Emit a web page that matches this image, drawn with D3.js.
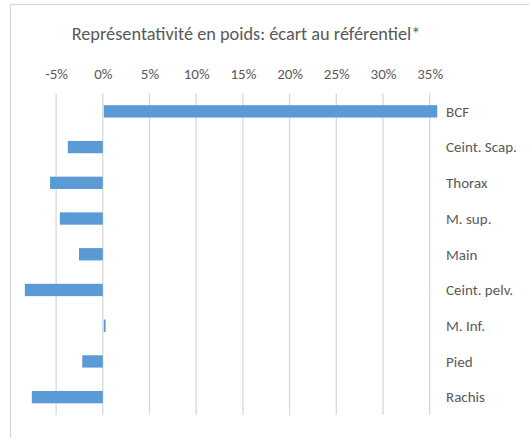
<!DOCTYPE html>
<html>
<head>
<meta charset="utf-8">
<script src="https://cdn.jsdelivr.net/npm/d3@7"></script>
<style>
  html, body { margin: 0; padding: 0; background: #ffffff; }
  svg { display: block; }
  text { font-family: Carlito, Calibri, Lato, "Open Sans", sans-serif; fill: #595959; }
</style>
</head>
<body>
<div id="chart"></div>
<script>
// Body regions and the weight-representativity gap to the reference
const categories = ["BCF", "Ceint. Scap.", "Thorax", "M. sup.", "Main", "Ceint. pelv.", "M. Inf.", "Pied", "Rachis"];
const ecart = [0.357, -0.0375, -0.0565, -0.046, -0.0255, -0.0835, 0.002, -0.022, -0.076];
const tickValues = [-0.05, 0, 0.05, 0.10, 0.15, 0.20, 0.25, 0.30, 0.35];
const titleText = "Représentativité en poids: écart au référentiel*";

const width = 529, height = 438;
const svg = d3.select("#chart").append("svg")
  .attr("width", width).attr("height", height);

// chart frame
svg.append("rect")
  .attr("x", 10.5).attr("y", 4.5)
  .attr("width", width + 10).attr("height", height + 10)
  .attr("fill", "none").attr("stroke", "#d9d9d9").attr("stroke-width", 1.3);

const plotTop = 93.5, plotBottom = 415;

const x = d3.scaleLinear().domain([-0.05, 0.35]).range([56.1, 429.7]);
const y = d3.scaleBand().domain(categories).range([plotTop, plotBottom])
  .paddingInner(0.655).paddingOuter(0.3275);

// title
svg.append("text")
  .attr("x", 246).attr("y", 39.5)
  .attr("text-anchor", "middle")
  .attr("font-size", 18.3)
  .text(titleText);

// value axis on top, plain hyphen for negatives
const pct = d => Math.round(d * 100) + "%";
const xAxis = d3.axisTop(x).tickValues(tickValues)
  .tickFormat(pct).tickSize(0).tickPadding(0);
const gx = svg.append("g").attr("transform", `translate(0,${79})`).call(xAxis);
gx.select(".domain").remove();
gx.selectAll("text").attr("font-size", 15).attr("fill", "#595959")
  .style("font-family", "Carlito, Calibri, Lato, 'Open Sans', sans-serif");

// gridlines
svg.append("g").selectAll("line").data(tickValues).join("line")
  .attr("x1", d => x(d)).attr("x2", d => x(d))
  .attr("y1", plotTop).attr("y2", plotBottom)
  .attr("stroke", "#d9d9d9").attr("stroke-width", 1.3);

// bars
svg.append("g").selectAll("rect").data(categories).join("rect")
  .attr("x", (c, i) => Math.min(x(0), x(ecart[i])) + (ecart[i] >= 0 ? 1 : 0))
  .attr("width", (c, i) => Math.abs(x(ecart[i]) - x(0)))
  .attr("y", c => y(c))
  .attr("height", y.bandwidth())
  .attr("fill", "#5b9bd5");

// category labels
svg.append("g").selectAll("text").data(categories).join("text")
  .attr("x", 446)
  .attr("y", c => y(c) + y.bandwidth() / 2)
  .attr("dy", "0.35em")
  .attr("font-size", 15)
  .text(c => c);
</script>
</body>
</html>
